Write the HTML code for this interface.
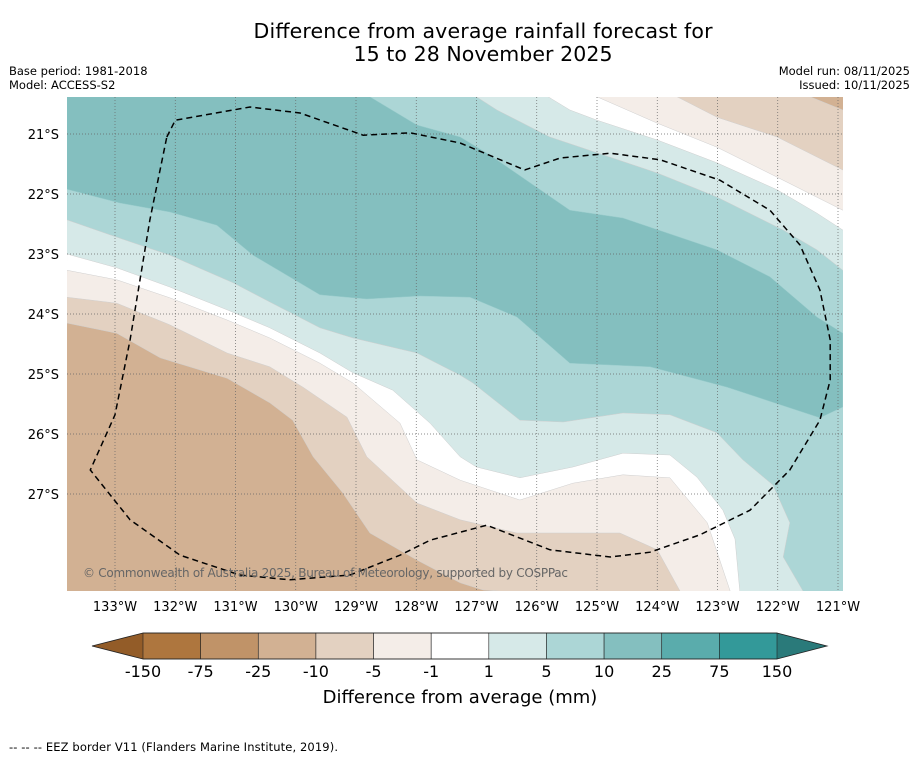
<!DOCTYPE html>
<html><head><meta charset="utf-8">
<style>
body{margin:0;background:#fff;width:919px;height:758px;overflow:hidden;font-family:"Liberation Sans","DejaVu Sans",sans-serif;}
svg{position:absolute;left:0;top:0;}
</style></head>
<body>
<svg id="chart" width="919" height="758" viewBox="0 0 919 758" xmlns="http://www.w3.org/2000/svg">
<text x="483" y="38" text-anchor="middle" font-family="DejaVu Sans, sans-serif" font-size="20.5" textLength="459" fill="#000">Difference from average rainfall forecast for</text>
<text x="483" y="61" text-anchor="middle" font-family="DejaVu Sans, sans-serif" font-size="20.5" textLength="259" fill="#000">15 to 28 November 2025</text>
<text x="9" y="75" font-family="DejaVu Sans, sans-serif" font-size="11.5">Base period: 1981-2018</text>
<text x="9" y="89" font-family="DejaVu Sans, sans-serif" font-size="11.5">Model: ACCESS-S2</text>
<text x="910" y="75" text-anchor="end" font-family="DejaVu Sans, sans-serif" font-size="11.5">Model run: 08/11/2025</text>
<text x="910" y="89" text-anchor="end" font-family="DejaVu Sans, sans-serif" font-size="11.5">Issued: 10/11/2025</text>
<defs><clipPath id="mapclip"><rect x="67" y="97" width="776" height="494"/></clipPath></defs>
<g id="map" clip-path="url(#mapclip)"></g>
<g id="axes"></g>
<g id="cbar"></g>
<text x="460" y="703" text-anchor="middle" font-family="DejaVu Sans, sans-serif" font-size="18">Difference from average (mm)</text>
<text x="9" y="751" font-family="DejaVu Sans, sans-serif" font-size="11.5" textLength="329">--  --  -- EEZ border V11 (Flanders Marine Institute, 2019).</text>
</svg>
<script>
// ---- data ----
const lonTicks = [133,132,131,130,129,128,127,126,125,124,123,122,121];
const latTicks = [21,22,23,24,25,26,27];
const cbarLevels = [-150,-75,-25,-10,-5,-1,1,5,10,25,75,150];
const cbarColors = ["#ae763e","#c09368","#d2b193","#e3d1c1","#f4ede8","#ffffff","#d6e9e8","#acd6d6","#84bfbf","#5aacac","#339999"];
const bandBase = "#acd6d6";
// contour boundaries [lon, lat]
const darkTeal = [[133.8,20.38],[128.77,20.38],[127.99,20.85],[127.27,21.05],[126.78,21.35],[125.45,22.27],[124.57,22.40],[123.01,22.93],[122.13,23.38],[121.35,24.05],[120.92,24.32],[120.92,25.55],[121.30,25.73],[122.84,25.22],[124.12,24.88],[125.45,24.82],[126.33,24.05],[127.11,23.72],[127.94,23.70],[128.82,23.75],[129.60,23.68],[130.71,23.02],[131.31,22.52],[132.09,22.30],[132.92,22.15],[133.8,21.92]];
const L5 = [[133.8,22.43],[132.97,22.72],[132.09,23.02],[131.04,23.48],[130.43,23.80],[129.60,24.23],[129.05,24.40],[127.99,24.65],[127.27,25.02],[127.06,25.15],[126.28,25.77],[125.56,25.80],[124.57,25.65],[123.79,25.68],[123.01,25.98],[122.58,26.43],[122.08,26.85],[121.80,27.48],[121.91,28.05],[121.58,28.62]];
const L1 = [[133.8,23.00],[132.97,23.23],[132.09,23.55],[131.14,23.93],[130.43,24.23],[129.60,24.65],[129.05,24.98],[128.39,25.27],[127.77,25.82],[127.27,26.38],[127.00,26.55],[126.28,26.73],[125.40,26.55],[124.57,26.32],[123.79,26.35],[123.34,26.72],[122.91,27.27],[122.71,27.75],[122.63,28.62]];
const Lm1 = [[133.8,23.27],[132.97,23.43],[132.09,23.73],[131.14,24.10],[130.43,24.40],[129.60,24.82],[129.05,25.15],[128.27,25.82],[127.99,26.43],[127.27,26.77],[126.28,27.10],[125.40,26.82],[124.57,26.68],[123.79,26.73],[123.17,27.48],[122.79,28.62]];
const Lm5 = [[133.8,23.72],[132.97,23.82],[132.09,24.18],[131.14,24.65],[130.43,24.88],[129.88,25.22],[129.15,25.72],[128.82,26.38],[127.99,27.15],[127.27,27.43],[126.33,27.65],[124.62,27.65],[124.00,27.93],[123.62,28.62]];
const Lm10 = [[133.8,24.15],[132.97,24.32],[132.25,24.73],[131.14,25.07],[130.43,25.48],[130.05,25.77],[129.71,26.38],[129.22,26.98],[128.77,27.65],[127.99,28.10],[127.27,28.48],[126.89,28.60],[126.61,28.62]];
const U5 = [[127.00,20.38],[126.66,20.60],[125.78,21.05],[124.00,21.65],[123.01,22.05],[121.91,22.60],[121.35,22.93],[120.92,23.27]];
const U1 = [[125.81,20.38],[125.45,20.60],[125.00,20.77],[124.00,21.10],[123.01,21.48],[122.01,21.93],[121.35,22.32],[120.92,22.60]];
const Um1 = [[125.00,20.38],[124.00,20.82],[123.01,21.22],[122.01,21.72],[120.92,22.27]];
const Um5 = [[123.67,20.38],[123.01,20.72],[122.01,21.05],[120.92,21.60]];
const Um10 = [[121.46,20.38],[120.92,20.60]];
const eez = [[132.14,21.05],[132.00,20.77],[130.76,20.55],[129.93,20.65],[128.88,21.02],[128.10,20.98],[127.27,21.15],[126.20,21.60],[125.61,21.40],[124.78,21.32],[123.95,21.43],[122.96,21.77],[122.13,22.27],[121.63,22.85],[121.30,23.60],[121.13,24.43],[121.13,25.10],[121.30,25.77],[121.80,26.60],[122.46,27.27],[123.29,27.68],[124.12,27.97],[124.78,28.05],[125.78,27.93],[126.83,27.52],[127.77,27.77],[128.27,28.02],[129.10,28.35],[130.10,28.43],[130.93,28.35],[131.92,28.02],[132.75,27.43],[133.41,26.60],[133.00,25.68],[132.75,24.43],[132.42,22.43],[132.14,21.05]];

// ---- axes functions ----
const X0=67,X1=843,Y0=97,Y1=591;
const xs = lon => 115 + (133 - lon) * 60.25;
const ys = lat => 134 + (lat - 21) * 60;
const NS="http://www.w3.org/2000/svg";
function mk(tag, attrs, parent){const e=document.createElementNS(NS,tag);for(const k in attrs)e.setAttribute(k,attrs[k]);parent.appendChild(e);return e;}
const pts = arr => arr.map(p=>xs(p[0]).toFixed(1)+","+ys(p[1]).toFixed(1)).join(" ");
const map=document.getElementById("map");

let r=mk("rect",{x:X0,y:Y0,width:X1-X0,height:Y1-Y0,fill:bandBase},map);


let p=mk("polygon",{points:pts(darkTeal),fill:cbarColors[8],stroke:"#9cc",  "stroke-width":0.5},map);



const lowerSets=[[L5,cbarColors[6],'band-1-to-5-south'],[L1,cbarColors[5],'band-neutral-south'],[Lm1,cbarColors[4],'band-minus1-to-minus5-south'],[Lm5,cbarColors[3],'band-minus5-to-minus10-south'],[Lm10,cbarColors[2],'band-minus10-to-minus25-south']];
lowerSets.forEach(s=>{
  let poly=pts(s[0])+" "+xs(s[0][s[0].length-1][0])+","+(Y1+2)+" "+(X0-2)+","+(Y1+2);
  const e=mk("polygon",{points:poly,fill:s[1],stroke:"#cfcfcf","stroke-width":0.5},map);
  
  
});
const upperSets=[[U5,cbarColors[6],'band-1-to-5-north'],[U1,cbarColors[5],'band-neutral-north'],[Um1,cbarColors[4],'band-minus1-to-minus5-north'],[Um5,cbarColors[3],'band-minus5-to-minus10-north'],[Um10,cbarColors[2],'band-minus10-to-minus25-north']];
upperSets.forEach(s=>{
  let poly=pts(s[0])+" "+(X1+2)+","+ys(s[0][s[0].length-1][1])+" "+(X1+2)+","+(Y0-2);
  const e=mk("polygon",{points:poly,fill:s[1],stroke:"#cfcfcf","stroke-width":0.5},map);
  
  
});
// grid
lonTicks.forEach(l=>{
  const e=mk("line",{x1:xs(l),x2:xs(l),y1:Y0,y2:Y1,stroke:"#666","stroke-width":0.7,"stroke-dasharray":"1,2"},map);
  
  
});
latTicks.forEach(l=>{
  const e=mk("line",{x1:X0,x2:X1,y1:ys(l),y2:ys(l),stroke:"#666","stroke-width":0.7,"stroke-dasharray":"1,2"},map);
  
  
});
// eez
let ez=mk("polyline",{points:pts(eez),fill:"none",stroke:"#000","stroke-width":1.5,"stroke-dasharray":"6,4"},map);


let cp=mk("text",{x:83,y:577,"font-size":12,fill:"#666","font-family":"DejaVu Sans, sans-serif",textLength:485},map);
cp.textContent="© Commonwealth of Australia 2025, Bureau of Meteorology, supported by COSPPac";



// axis labels
const axes=document.getElementById("axes");
lonTicks.forEach(l=>{
  const t=mk("text",{x:xs(l),y:611,"text-anchor":"middle","font-size":13,"font-family":"DejaVu Sans, sans-serif"},axes);
  t.textContent=l+"°W";
  
  
});
latTicks.forEach(l=>{
  const t=mk("text",{x:59,y:ys(l)+5,"text-anchor":"end","font-size":13,"font-family":"DejaVu Sans, sans-serif"},axes);
  t.textContent=l+"°S";
  
  
});

// colorbar
const cb=document.getElementById("cbar");
const CB0=143,CB1=777,CBT=633,CBB=659,n=cbarLevels.length-1;
const cx=i=>CB0+(CB1-CB0)*i/n;
let tl=mk("polygon",{points:`92,646 ${CB0},${CBT} ${CB0},${CBB}`,fill:"#935c28"},cb);


let tr=mk("polygon",{points:`827,646 ${CB1},${CBT} ${CB1},${CBB}`,fill:"#2a7a7a"},cb);


cbarColors.forEach((c,i)=>{
  const e=mk("rect",{x:cx(i),y:CBT,width:cx(i+1)-cx(i),height:CBB-CBT,fill:c,stroke:"#222","stroke-width":0.6},cb);
  
  
});
mk("polygon",{points:`92,646 ${CB0},${CBT} ${CB1},${CBT} 827,646 ${CB1},${CBB} ${CB0},${CBB}`,fill:"none",stroke:"#222","stroke-width":0.8},cb);
cbarLevels.forEach((v,i)=>{
  const t=mk("text",{x:cx(i),y:677,"text-anchor":"middle","font-size":16,"font-family":"DejaVu Sans, sans-serif"},cb);
  t.textContent=v;
  
  
});
</script>
</body></html>
